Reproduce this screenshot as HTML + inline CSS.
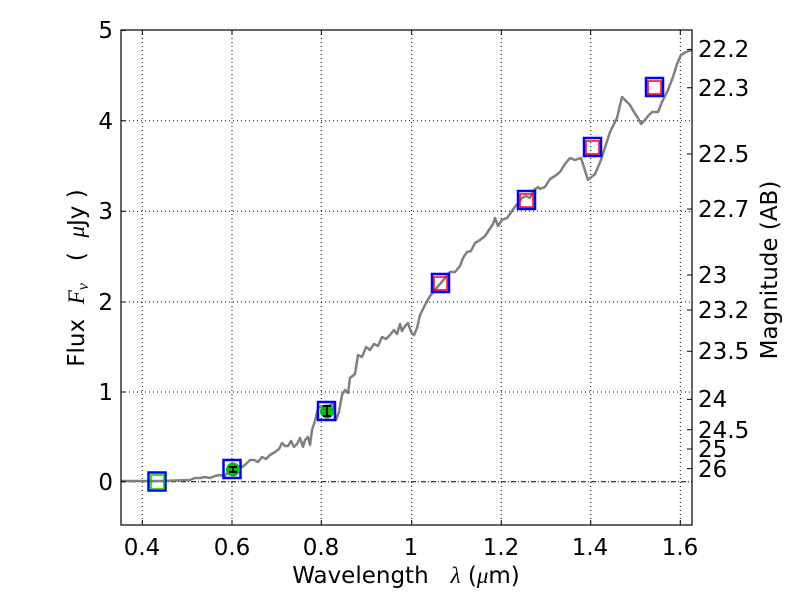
<!DOCTYPE html><html><head><style>body{margin:0;background:#fff}svg{display:block}text{font-family:"DejaVu Sans","Liberation Sans",sans-serif;fill:#000}</style></head><body>
<svg width="800" height="600" xmlns="http://www.w3.org/2000/svg">
<rect width="800" height="600" fill="#fff"/>
<g stroke="#000" stroke-width="1" stroke-dasharray="1,3">
<line x1="142.3" y1="30" x2="142.3" y2="525"/><line x1="232" y1="30" x2="232" y2="525"/><line x1="321.3" y1="30" x2="321.3" y2="525"/><line x1="411.7" y1="30" x2="411.7" y2="525"/><line x1="501.3" y1="30" x2="501.3" y2="525"/><line x1="590.7" y1="30" x2="590.7" y2="525"/><line x1="680.3" y1="30" x2="680.3" y2="525"/>
<line x1="121" y1="392" x2="692" y2="392"/><line x1="121" y1="302" x2="692" y2="302"/><line x1="121" y1="211.3" x2="692" y2="211.3"/><line x1="121" y1="120.7" x2="692" y2="120.7"/>
</g>
<line x1="121" y1="481.7" x2="692" y2="481.7" stroke="#000" stroke-dasharray="5,2,1,2" stroke-width="1"/>
<polyline fill="none" stroke="#808080" stroke-width="2.5" stroke-linejoin="round" points="121,481 160,481 190,480 195,478 200,478 205,477 210,478 215,476 220,475 225,476 228,472 232,470 238,469 242,467 246,464 250,460 254,460 258,462 262,457 266,459 270,455 275,452 279,449 282,443 285,446 288,446 291,441 294,447 297,444 300,438 303,447 305,440 308,437 310,445 312,430 315,421 318,408 322,406 326,408 330,405 333,404 336,420 339,412 342,395 345,390 348,393 350,378 355,374 358,355 362,357 366,347 370,350 374,344 378,346 382,337 386,339 390,335 394,330 397,334 400,324 402,331 405,326 408,323 411,332 414,335 417,328 420,315 425,305 430,296 435,290 440,284 445,278 450,272 455,272 460,266 463,258 467,252 471,251 475,243 480,240 485,236 489,230 493,224 495,218 498,226 502,220 507,218 510,214 514,208 518,203 522,198 526,196 530,198 534,190 538,187 540,189 545,187 550,179 555,176 560,172 565,164 570,158 575,160 581,158 588,180 595,174 601,160 610,132 617,118 622,97 630,105 634,112 638,118 641,124 645,120 648,116 652,112 658,112 662,102 668,90 673,77 677,64 681,55 686,52 692,50"/>
<g fill="none" stroke="#00f" stroke-width="2.5">
<rect x="148.5" y="472.5" width="17" height="18"/><rect x="223.5" y="460" width="17" height="18"/><rect x="318" y="402" width="17" height="18"/><rect x="432" y="274" width="17" height="18"/><rect x="518" y="191" width="17" height="18"/><rect x="584" y="138" width="17" height="18"/><rect x="646" y="78" width="17" height="18"/>
</g>
<rect x="151" y="475" width="13" height="14" fill="none" stroke="#0c0" stroke-width="1.5"/>
<g fill="none" stroke="#f00" stroke-width="1.5">
<rect x="434" y="277" width="13" height="13"/><rect x="520" y="194" width="13" height="13"/><rect x="586" y="141" width="13" height="13"/><rect x="648" y="81" width="13" height="13"/>
</g>
<circle cx="233" cy="469.5" r="7" fill="#00c000"/><circle cx="327" cy="411.5" r="7" fill="#00c000"/>
<g stroke="#000" stroke-width="2"><line x1="229" y1="467" x2="237" y2="467"/><line x1="229" y1="472" x2="237" y2="472"/><line x1="233" y1="467" x2="233" y2="472"/>
<line x1="323" y1="406" x2="331" y2="406"/><line x1="323" y1="416" x2="331" y2="416"/><line x1="327" y1="406" x2="327" y2="416"/></g>
<rect x="121" y="30" width="571" height="495" fill="none" stroke="#000" stroke-width="1.2"/>
<g stroke="#000" stroke-width="1">
<path d="M142.3 525v-5M232 525v-5M321.3 525v-5M411.7 525v-5M501.3 525v-5M590.7 525v-5M680.3 525v-5M142.3 30v5M232 30v5M321.3 30v5M411.7 30v5M501.3 30v5M590.7 30v5M680.3 30v5"/>
<path d="M121 481.7h5M121 392h5M121 302h5M121 211.3h5M121 120.7h5M121 30.4h5"/>
<path d="M692 49.4h-5M692 87.8h-5M692 154h-5M692 209h-5M692 275h-5M692 310h-5M692 351.3h-5M692 399.4h-5M692 429.8h-5M692 449h-5M692 468.6h-5"/>
</g>
<g font-size="23" text-anchor="middle">
<text x="142" y="555">0.4</text><text x="232" y="555">0.6</text><text x="321" y="555">0.8</text><text x="411" y="555">1</text><text x="501" y="555">1.2</text><text x="590" y="555">1.4</text><text x="680" y="555">1.6</text>
</g>
<g font-size="23" text-anchor="end">
<text x="113" y="490">0</text><text x="113" y="400">1</text><text x="113" y="310">2</text><text x="113" y="219">3</text><text x="113" y="129">4</text><text x="113" y="38">5</text>
</g>
<g font-size="23">
<text x="698" y="57">22.2</text><text x="698" y="96">22.3</text><text x="698" y="162">22.5</text><text x="698" y="217">22.7</text><text x="698" y="283">23</text><text x="698" y="318">23.2</text><text x="698" y="359">23.5</text><text x="698" y="407">24</text><text x="698" y="438">24.5</text><text x="698" y="457">25</text><text x="698" y="477">26</text>
</g>
<text x="406" y="583" font-size="23" text-anchor="middle" xml:space="preserve">Wavelength   <tspan font-style="italic" font-family="Liberation Serif">λ</tspan> (<tspan font-style="italic" font-family="Liberation Serif">μ</tspan>m)</text>
<text transform="translate(84,278) rotate(-90)" font-size="23" text-anchor="middle" xml:space="preserve">Flux  <tspan font-style="italic" font-family="Liberation Serif">F</tspan><tspan font-style="italic" font-family="Liberation Serif" font-size="16" dy="4">ν</tspan><tspan dy="-4">   (  </tspan><tspan font-style="italic" font-family="Liberation Serif">μ</tspan>Jy )</text>
<text transform="translate(777,270) rotate(-90)" font-size="23" text-anchor="middle">Magnitude (AB)</text>
</svg></body></html>
